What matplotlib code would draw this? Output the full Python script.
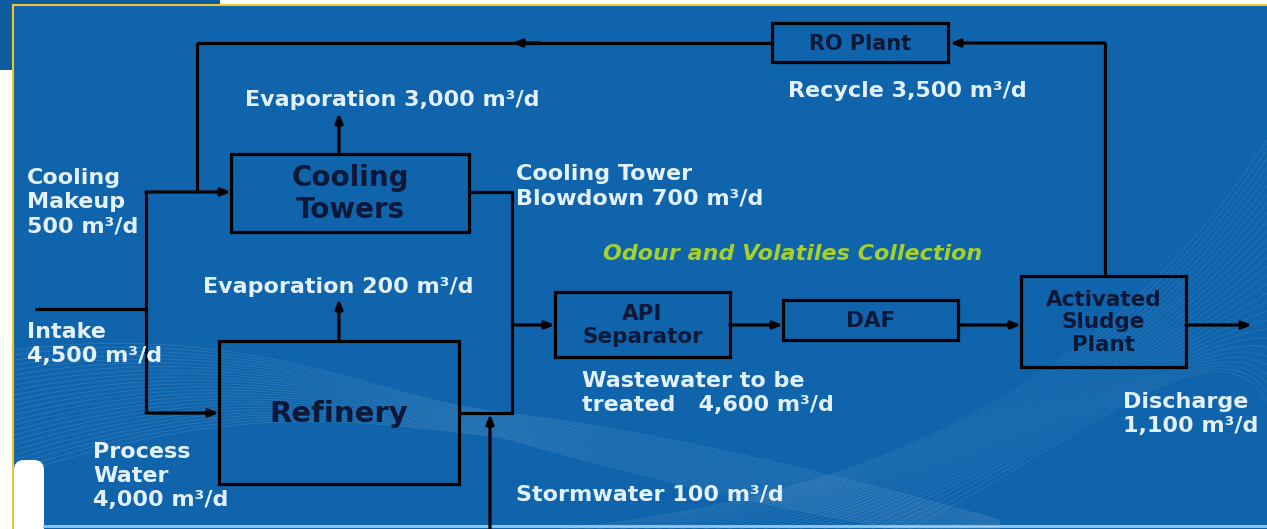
import matplotlib
matplotlib.use('Agg')
import matplotlib.pyplot as plt
from matplotlib.patches import Rectangle, FancyBboxPatch, PathPatch
from matplotlib.path import Path

# ---- diagram content ----
box_labels = ['RO Plant', 'Cooling\nTowers', 'Refinery', 'API\nSeparator', 'DAF',
              'Activated\nSludge\nPlant']
flow_names = ['Evaporation', 'Recycle', 'Cooling\nMakeup\n', 'Cooling Tower\nBlowdown',
              'Evaporation', 'Intake\n', 'Wastewater to be\ntreated  ',
              'Process\nWater\n', 'Stormwater', 'Discharge\n']
flow_values = [3000, 3500, 500, 700, 200, 4500, 4600, 4000, 100, 1100]
note_text = 'Odour and Volatiles Collection'

# ---- layout (pixel coords, y down) ----
box_rects = [(772, 23, 948, 62), (231, 154, 469, 232), (219, 341, 459, 484),
             (555, 292, 730, 357), (783, 300, 958, 340), (1021, 276, 1186, 367)]
box_fs = [15, 20, 21, 15.5, 15.5, 15.5]
box_ls = [1.0, 1.15, 1.0, 1.15, 1.0, 1.15]
flow_pos = [(245, 100), (788, 91), (27, 202), (516, 186), (203, 287),
            (27, 344), (582, 393), (93, 476), (516, 494), (1123, 414)]

BG = '#0f64ac'
TXT = '#e3f1fb'
NAVY = '#0b1838'
LW = 2.3
FS = 16

fig = plt.figure(figsize=(12.67, 5.29), dpi=100)
fig.patch.set_facecolor('white')
ax = fig.add_axes([0, 0, 1, 1])
ax.set_xlim(0, 1267)
ax.set_ylim(529, 0)
ax.axis('off')

# slide background
ax.add_patch(Rectangle((0, 0), 220, 70, facecolor='#0d5c9e', edgecolor='none', zorder=0))
ax.add_patch(Rectangle((13, 5), 1267, 530, facecolor=BG, edgecolor='none', zorder=0))
ax.plot([13, 1267], [5, 5], color='#f2c230', lw=1.5, zorder=1)
ax.plot([13, 13], [5, 529], color='#f2c230', lw=1.5, zorder=1)
ax.add_patch(FancyBboxPatch((14, 460), 30, 80, boxstyle='round,pad=0,rounding_size=10',
                            facecolor='white', edgecolor='none', zorder=1))
ax.plot([44, 1267], [526, 526], color='#8cc8ec', lw=2, zorder=1)

# faint wave texture
for k in range(26):
    verts = [(14, 350 + 5 * k), (250, 320 + 3 * k), (380, 400 + k), (500, 412 + k),
             (650, 430 + 2 * k), (820, 470 + 2 * k), (1000, 520 + k)]
    codes = [Path.MOVETO] + [Path.CURVE4] * 6
    ax.add_patch(PathPatch(Path(verts, codes), facecolor='none', edgecolor='white',
                           lw=0.6, alpha=0.12, zorder=1))
for k in range(30):
    verts = [(560 + 12 * k, 529), (850 + 8 * k, 500 - 2 * k), (1100 + 4 * k, 400 - 3 * k),
             (1267, 140 + 9 * k)]
    codes = [Path.MOVETO] + [Path.CURVE4] * 3
    ax.add_patch(PathPatch(Path(verts, codes), facecolor='none', edgecolor='white',
                           lw=0.6, alpha=0.1, zorder=1))


def line(xs, ys):
    ax.plot(xs, ys, color='black', lw=LW, solid_capstyle='butt',
            solid_joinstyle='miter', zorder=3)


def arrow(x0, y0, x1, y1):
    ax.annotate('', xy=(x1, y1), xytext=(x0, y0),
                arrowprops=dict(arrowstyle='-|>,head_length=0.55,head_width=0.22',
                                color='black', lw=LW, shrinkA=0, shrinkB=0),
                zorder=3)


# boxes
for (x0, y0, x1, y1), lbl, fs, ls in zip(box_rects, box_labels, box_fs, box_ls):
    ax.add_patch(Rectangle((x0, y0), x1 - x0, y1 - y0, facecolor='none',
                           edgecolor='black', lw=LW, zorder=3))
    ax.text((x0 + x1) / 2, (y0 + y1) / 2 + 1, lbl, ha='center', va='center',
            fontsize=fs, fontweight='bold', color=NAVY, linespacing=ls,
            family='DejaVu Sans', zorder=4)

# connections
line([197, 772], [43, 43])
arrow(540, 43, 512, 43)
line([1105, 1105], [276, 43])
arrow(1105, 43, 950, 43)
line([197, 197], [43, 192])
line([146, 146], [192, 413])
arrow(146, 192, 231, 192)
line([35, 146], [309, 309])
arrow(146, 413, 219, 413)
arrow(339, 154, 339, 113)
arrow(339, 341, 339, 299)
line([469, 512, 512, 459], [192, 192, 413, 413])
arrow(512, 325, 555, 325)
arrow(490, 529, 490, 414)
arrow(730, 325, 783, 325)
arrow(958, 325, 1021, 325)
arrow(1186, 325, 1252, 325)

# flow labels
for name, val, (x, y) in zip(flow_names, flow_values, flow_pos):
    sep = '' if name.endswith('\n') else ' '
    ax.text(x, y, f'{name}{sep}{val:,} m³/d', ha='left', va='center', fontsize=FS,
            fontweight='bold', color=TXT, linespacing=1.25, family='DejaVu Sans',
            zorder=4)

ax.text(603, 254, note_text, ha='left', va='center', fontsize=FS, fontweight='bold',
        fontstyle='italic', color='#a6d12b', family='DejaVu Sans', zorder=4)

fig.savefig('out.png', dpi=100, facecolor=fig.get_facecolor())
